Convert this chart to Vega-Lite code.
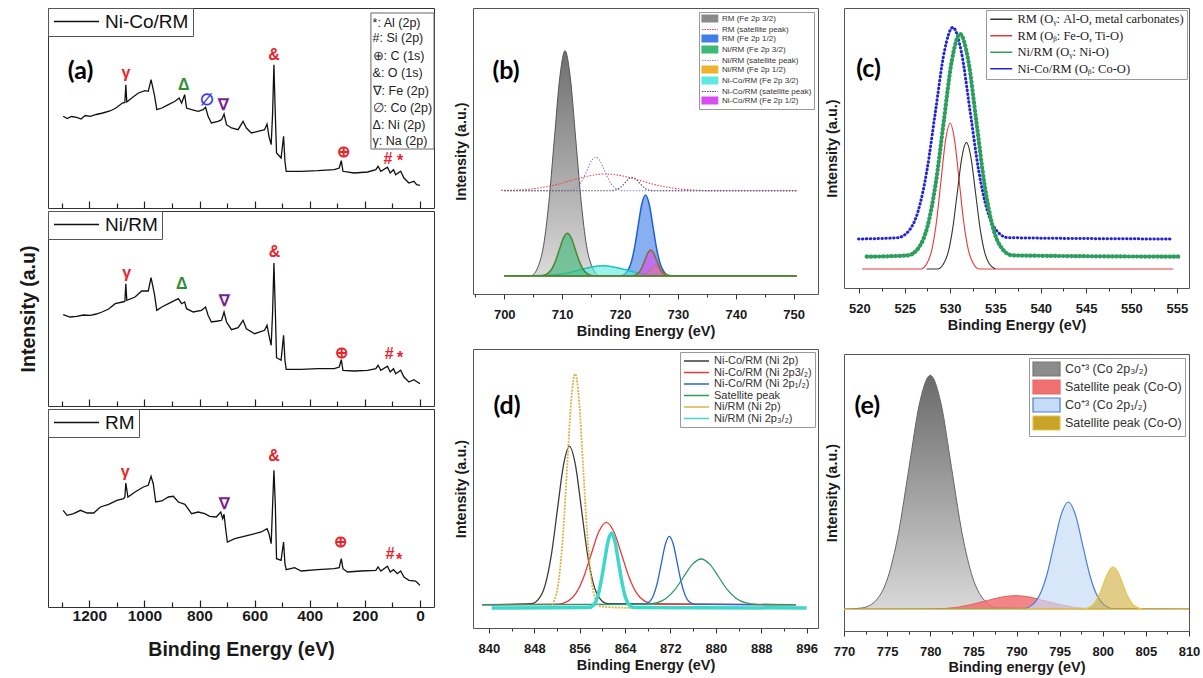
{
"$schema": "https://vega.github.io/schema/vega-lite/v6.json",
"background": "white",
"padding": {"left": 17, "top": 7, "right": 0, "bottom": 2},
"config": {
  "font": "Liberation Sans",
  "view": {"stroke": "#333", "strokeWidth": 1},
  "axis": {"grid": false, "domain": false, "labelFont": "Liberation Sans", "titleFont": "Liberation Sans", "labelFontWeight": "bold", "titleFontWeight": "bold", "labelColor": "#1a1a1a", "titleColor": "#1a1a1a", "tickColor": "#333", "labelFlush": false, "labelOverlap": false, "labelBound": false},
  "legend": {"labelFont": "Liberation Sans", "cornerRadius": 0, "symbolStrokeWidth": 1.3}
},
"datasets": {
  "a1": [{"ev":1295,"i":91.7},{"ev":1280,"i":89.5},{"ev":1265,"i":91.5},{"ev":1246,"i":90.7},{"ev":1230,"i":89},{"ev":1215,"i":92.5},{"ev":1196,"i":91.7},{"ev":1175,"i":93.5},{"ev":1151,"i":95},{"ev":1125,"i":97},{"ev":1110,"i":99},{"ev":1100,"i":100.7},{"ev":1080,"i":105},{"ev":1071,"i":105.5},{"ev":1067.5,"i":123.3},{"ev":1064,"i":106},{"ev":1046,"i":110},{"ev":1022,"i":115},{"ev":998,"i":117.3},{"ev":986,"i":116.7},{"ev":976,"i":128.3},{"ev":964,"i":113.3},{"ev":955,"i":98.3},{"ev":937,"i":100},{"ev":913,"i":103.3},{"ev":889,"i":106.7},{"ev":874,"i":110},{"ev":865,"i":105},{"ev":854,"i":113.3},{"ev":847,"i":100},{"ev":829,"i":98.3},{"ev":805,"i":96.7},{"ev":787,"i":98.3},{"ev":778,"i":100.7},{"ev":769,"i":91.7},{"ev":757,"i":85},{"ev":733,"i":86.7},{"ev":720,"i":88.3},{"ev":711,"i":94},{"ev":702,"i":83.3},{"ev":684,"i":80},{"ev":660,"i":78.3},{"ev":642,"i":86.7},{"ev":630,"i":80},{"ev":612,"i":75},{"ev":588,"i":76.7},{"ev":564,"i":78.3},{"ev":555,"i":84},{"ev":548,"i":71.7},{"ev":540,"i":63.3},{"ev":535,"i":93.3},{"ev":530,"i":143.3},{"ev":525,"i":93.3},{"ev":520.5,"i":55},{"ev":504,"i":50},{"ev":495,"i":71.7},{"ev":490,"i":46.7},{"ev":485.5,"i":36.7},{"ev":431,"i":36.7},{"ev":371,"i":37.3},{"ev":311,"i":38.3},{"ev":293,"i":40},{"ev":285.5,"i":47.3},{"ev":279.5,"i":36.7},{"ev":239,"i":35},{"ev":190,"i":36},{"ev":160,"i":38.3},{"ev":152,"i":41.7},{"ev":142,"i":36.7},{"ev":118,"i":40.7},{"ev":108,"i":35},{"ev":96,"i":38.3},{"ev":88,"i":33.3},{"ev":70,"i":36.7},{"ev":58,"i":30},{"ev":40,"i":25},{"ev":22,"i":26.7},{"ev":12,"i":23.3},{"ev":0,"i":22.7}],
  "a2": [{"ev":1295,"i":91.3},{"ev":1270,"i":89},{"ev":1246,"i":89.7},{"ev":1222,"i":91},{"ev":1196,"i":90.7},{"ev":1175,"i":92},{"ev":1154,"i":94},{"ev":1130,"i":97},{"ev":1106,"i":102.3},{"ev":1080,"i":104},{"ev":1071,"i":104.5},{"ev":1067.5,"i":122.3},{"ev":1064,"i":105.7},{"ev":1034,"i":109},{"ev":1010,"i":115},{"ev":986,"i":115},{"ev":976,"i":128.3},{"ev":964,"i":112.3},{"ev":955,"i":95.7},{"ev":937,"i":99},{"ev":913,"i":102.3},{"ev":877,"i":107.3},{"ev":865,"i":102.3},{"ev":854,"i":104},{"ev":847,"i":97.3},{"ev":823,"i":94},{"ev":793,"i":95.7},{"ev":778,"i":99},{"ev":769,"i":90.7},{"ev":757,"i":84},{"ev":733,"i":85},{"ev":720,"i":85.7},{"ev":711,"i":94},{"ev":702,"i":84},{"ev":684,"i":76.3},{"ev":660,"i":78.3},{"ev":642,"i":85.7},{"ev":630,"i":77.3},{"ev":600,"i":72.3},{"ev":564,"i":75.7},{"ev":555,"i":80.7},{"ev":548,"i":70.7},{"ev":540,"i":60.7},{"ev":535,"i":92.3},{"ev":530,"i":143},{"ev":525,"i":95.7},{"ev":520.5,"i":48.3},{"ev":504,"i":45.7},{"ev":495,"i":70.7},{"ev":490,"i":45.7},{"ev":485.5,"i":36.7},{"ev":431,"i":36.7},{"ev":371,"i":37.3},{"ev":311,"i":37.3},{"ev":293,"i":39},{"ev":285.5,"i":46.3},{"ev":279.5,"i":35.7},{"ev":239,"i":35},{"ev":190,"i":35.7},{"ev":160,"i":37.3},{"ev":152,"i":40.7},{"ev":142,"i":35.7},{"ev":118,"i":39.7},{"ev":108,"i":34},{"ev":96,"i":37.3},{"ev":88,"i":32.3},{"ev":70,"i":35.7},{"ev":58,"i":29},{"ev":40,"i":24},{"ev":22,"i":26.3},{"ev":0,"i":22.3}],
  "a3": [{"ev":1295,"i":96.7},{"ev":1281,"i":91.7},{"ev":1257,"i":93.3},{"ev":1232,"i":96.7},{"ev":1208,"i":94},{"ev":1184,"i":94},{"ev":1160,"i":100},{"ev":1130,"i":102.7},{"ev":1100,"i":106.7},{"ev":1076,"i":108.3},{"ev":1071,"i":110},{"ev":1067.5,"i":124},{"ev":1060,"i":110},{"ev":1034,"i":115},{"ev":1004,"i":120},{"ev":986,"i":121.7},{"ev":976,"i":130.7},{"ev":968,"i":123.3},{"ev":959,"i":105},{"ev":937,"i":106},{"ev":913,"i":110},{"ev":895,"i":110.7},{"ev":877,"i":105},{"ev":853,"i":102.7},{"ev":829,"i":93.3},{"ev":805,"i":95},{"ev":781,"i":93.3},{"ev":763,"i":90.7},{"ev":739,"i":90},{"ev":723,"i":95},{"ev":716,"i":88.3},{"ev":711,"i":92.7},{"ev":706,"i":80},{"ev":699,"i":65},{"ev":672,"i":68.3},{"ev":624,"i":71.7},{"ev":576,"i":75},{"ev":555,"i":78.3},{"ev":548,"i":73.3},{"ev":540,"i":63.3},{"ev":535,"i":100},{"ev":530,"i":136.7},{"ev":525,"i":103.3},{"ev":520.5,"i":48.3},{"ev":504,"i":46.7},{"ev":495,"i":65},{"ev":490,"i":43.3},{"ev":485.5,"i":37.3},{"ev":455,"i":39.3},{"ev":431,"i":36},{"ev":371,"i":37.3},{"ev":311,"i":38.3},{"ev":293,"i":39.3},{"ev":285.5,"i":48.3},{"ev":279.5,"i":38.3},{"ev":263,"i":35},{"ev":215,"i":36},{"ev":160,"i":36.7},{"ev":152,"i":40},{"ev":142,"i":36},{"ev":118,"i":40.7},{"ev":108,"i":35},{"ev":96,"i":37.3},{"ev":82,"i":33.3},{"ev":70,"i":36},{"ev":58,"i":30},{"ev":40,"i":26.7},{"ev":16,"i":26},{"ev":0,"i":21.7}],
  "am": [
    {"p":"top","t":"γ","el":"Na","ev":1067,"i":135},{"p":"top","t":"Δ","el":"Ni","ev":857,"i":123.3},{"p":"top","t":"∅","el":"Co","ev":772,"i":108.3},{"p":"top","t":"∇","el":"Fe","ev":713,"i":103.3},{"p":"top","t":"&","el":"O","ev":530,"i":153.3},{"p":"top","t":"⊕","el":"C","ev":277,"i":56},{"p":"top","t":"#","el":"Si","ev":116,"i":49.3},{"p":"top","t":"*","el":"Al","ev":72,"i":47.3},
    {"p":"mid","t":"γ","el":"Na","ev":1064,"i":133},{"p":"mid","t":"Δ","el":"Ni","ev":865,"i":122.3},{"p":"mid","t":"∇","el":"Fe","ev":711,"i":105},{"p":"mid","t":"&","el":"O","ev":528,"i":154},{"p":"mid","t":"⊕","el":"C","ev":284,"i":53},{"p":"mid","t":"#","el":"Si","ev":112,"i":51.7},{"p":"mid","t":"*","el":"Al","ev":72,"i":48.3},
    {"p":"bot","t":"γ","el":"Na","ev":1070,"i":135},{"p":"bot","t":"∇","el":"Fe","ev":708,"i":103.3},{"p":"bot","t":"&","el":"O","ev":530,"i":150.7},{"p":"bot","t":"⊕","el":"C","ev":287,"i":65},{"p":"bot","t":"#","el":"Si","ev":108,"i":53.3},{"p":"bot","t":"*","el":"Al","ev":76,"i":47.3}
  ],
  "aleg": [{"t":"*: Al (2p)","ev":172,"i":185},{"t":"#: Si (2p)","ev":172,"i":170},{"t":"⊕: C (1s)","ev":172,"i":151.7},{"t":"&: O (1s)","ev":172,"i":135},{"t":"∇: Fe (2p)","ev":172,"i":117.3},{"t":"∅: Co (2p)","ev":172,"i":100},{"t":"Δ: Ni (2p)","ev":172,"i":83.3},{"t":"γ: Na (2p)","ev":172,"i":66.7}],
  "abox": [{"ev":178,"ev2":-51,"i":59,"i2":195}],
  "b": [
    {"s":"RM (Fe 2p 3/2)","ev":700,"i":18.3},{"s":"RM (Fe 2p 3/2)","ev":704.6,"i":18.3},{"s":"RM (Fe 2p 3/2)","ev":705.9,"i":28.2},{"s":"RM (Fe 2p 3/2)","ev":706.8,"i":48.7},{"s":"RM (Fe 2p 3/2)","ev":707.7,"i":91.4},{"s":"RM (Fe 2p 3/2)","ev":708.65,"i":154.8},{"s":"RM (Fe 2p 3/2)","ev":709.6,"i":216.9},{"s":"RM (Fe 2p 3/2)","ev":710.5,"i":243.3},{"s":"RM (Fe 2p 3/2)","ev":711.4,"i":216.9},{"s":"RM (Fe 2p 3/2)","ev":712.35,"i":154.8},{"s":"RM (Fe 2p 3/2)","ev":713.3,"i":91.4},{"s":"RM (Fe 2p 3/2)","ev":714.2,"i":48.7},{"s":"RM (Fe 2p 3/2)","ev":715.1,"i":28.2},{"s":"RM (Fe 2p 3/2)","ev":716.4,"i":18.3},{"s":"RM (Fe 2p 3/2)","ev":750.5,"i":18.3},
    {"s":"RM (Fe 2p 1/2)","ev":700,"i":18.3},{"s":"RM (Fe 2p 1/2)","ev":720.2,"i":18.3},{"s":"RM (Fe 2p 1/2)","ev":721.15,"i":21.8},{"s":"RM (Fe 2p 1/2)","ev":721.8,"i":29.2},{"s":"RM (Fe 2p 1/2)","ev":722.45,"i":44.5},{"s":"RM (Fe 2p 1/2)","ev":723.1,"i":67.2},{"s":"RM (Fe 2p 1/2)","ev":723.75,"i":89.5},{"s":"RM (Fe 2p 1/2)","ev":724.4,"i":99},{"s":"RM (Fe 2p 1/2)","ev":725.05,"i":89.5},{"s":"RM (Fe 2p 1/2)","ev":725.7,"i":67.2},{"s":"RM (Fe 2p 1/2)","ev":726.35,"i":44.5},{"s":"RM (Fe 2p 1/2)","ev":727.0,"i":29.2},{"s":"RM (Fe 2p 1/2)","ev":727.65,"i":21.8},{"s":"RM (Fe 2p 1/2)","ev":728.6,"i":18.3},{"s":"RM (Fe 2p 1/2)","ev":750.5,"i":18.3},
    {"s":"Ni-Co/RM (Fe 2p 3/2)","ev":700,"i":18.3},{"s":"Ni-Co/RM (Fe 2p 3/2)","ev":705,"i":18.3},{"s":"Ni-Co/RM (Fe 2p 3/2)","ev":707.5,"i":18.7},{"s":"Ni-Co/RM (Fe 2p 3/2)","ev":709.4,"i":19.7},{"s":"Ni-Co/RM (Fe 2p 3/2)","ev":711.3,"i":21.5},{"s":"Ni-Co/RM (Fe 2p 3/2)","ev":713.2,"i":24.4},{"s":"Ni-Co/RM (Fe 2p 3/2)","ev":715.1,"i":27.1},{"s":"Ni-Co/RM (Fe 2p 3/2)","ev":717,"i":28.3},{"s":"Ni-Co/RM (Fe 2p 3/2)","ev":718.9,"i":27.1},{"s":"Ni-Co/RM (Fe 2p 3/2)","ev":720.8,"i":24.4},{"s":"Ni-Co/RM (Fe 2p 3/2)","ev":722.7,"i":21.5},{"s":"Ni-Co/RM (Fe 2p 3/2)","ev":724.6,"i":19.7},{"s":"Ni-Co/RM (Fe 2p 3/2)","ev":726.5,"i":18.7},{"s":"Ni-Co/RM (Fe 2p 3/2)","ev":729,"i":18.3},{"s":"Ni-Co/RM (Fe 2p 3/2)","ev":750.5,"i":18.3},
    {"s":"Ni/RM (Fe 2p 1/2)","ev":700,"i":18.3},{"s":"Ni/RM (Fe 2p 1/2)","ev":723.2,"i":18.3},{"s":"Ni/RM (Fe 2p 1/2)","ev":723.85,"i":18.7},{"s":"Ni/RM (Fe 2p 1/2)","ev":724.3,"i":19.7},{"s":"Ni/RM (Fe 2p 1/2)","ev":724.75,"i":21.5},{"s":"Ni/RM (Fe 2p 1/2)","ev":725.2,"i":24.4},{"s":"Ni/RM (Fe 2p 1/2)","ev":725.65,"i":27.1},{"s":"Ni/RM (Fe 2p 1/2)","ev":726.1,"i":28.3},{"s":"Ni/RM (Fe 2p 1/2)","ev":726.55,"i":27.1},{"s":"Ni/RM (Fe 2p 1/2)","ev":727.0,"i":24.4},{"s":"Ni/RM (Fe 2p 1/2)","ev":727.45,"i":21.5},{"s":"Ni/RM (Fe 2p 1/2)","ev":727.9,"i":19.7},{"s":"Ni/RM (Fe 2p 1/2)","ev":728.35,"i":18.7},{"s":"Ni/RM (Fe 2p 1/2)","ev":729.0,"i":18.3},{"s":"Ni/RM (Fe 2p 1/2)","ev":750.5,"i":18.3},
    {"s":"Ni-Co/RM (Fe 2p 1/2)","ev":700,"i":18.3},{"s":"Ni-Co/RM (Fe 2p 1/2)","ev":722.1,"i":18.3},{"s":"Ni-Co/RM (Fe 2p 1/2)","ev":722.8,"i":19.4},{"s":"Ni-Co/RM (Fe 2p 1/2)","ev":723.3,"i":21.8},{"s":"Ni-Co/RM (Fe 2p 1/2)","ev":723.8,"i":26.6},{"s":"Ni-Co/RM (Fe 2p 1/2)","ev":724.3,"i":33.9},{"s":"Ni-Co/RM (Fe 2p 1/2)","ev":724.8,"i":41.0},{"s":"Ni-Co/RM (Fe 2p 1/2)","ev":725.3,"i":44},{"s":"Ni-Co/RM (Fe 2p 1/2)","ev":725.8,"i":41.0},{"s":"Ni-Co/RM (Fe 2p 1/2)","ev":726.3,"i":33.9},{"s":"Ni-Co/RM (Fe 2p 1/2)","ev":726.8,"i":26.6},{"s":"Ni-Co/RM (Fe 2p 1/2)","ev":727.3,"i":21.8},{"s":"Ni-Co/RM (Fe 2p 1/2)","ev":727.8,"i":19.4},{"s":"Ni-Co/RM (Fe 2p 1/2)","ev":728.5,"i":18.3},{"s":"Ni-Co/RM (Fe 2p 1/2)","ev":750.5,"i":18.3},
    {"s":"Ni/RM (Fe 2p 3/2)","ev":700,"i":18.3},{"s":"Ni/RM (Fe 2p 3/2)","ev":706.4,"i":18.3},{"s":"Ni/RM (Fe 2p 3/2)","ev":707.4,"i":20.2},{"s":"Ni/RM (Fe 2p 3/2)","ev":708.1,"i":24.0},{"s":"Ni/RM (Fe 2p 3/2)","ev":708.8,"i":32.1},{"s":"Ni/RM (Fe 2p 3/2)","ev":709.5,"i":44.0},{"s":"Ni/RM (Fe 2p 3/2)","ev":710.2,"i":55.7},{"s":"Ni/RM (Fe 2p 3/2)","ev":710.9,"i":60.7},{"s":"Ni/RM (Fe 2p 3/2)","ev":711.6,"i":55.7},{"s":"Ni/RM (Fe 2p 3/2)","ev":712.3,"i":44.0},{"s":"Ni/RM (Fe 2p 3/2)","ev":713.0,"i":32.1},{"s":"Ni/RM (Fe 2p 3/2)","ev":713.7,"i":24.0},{"s":"Ni/RM (Fe 2p 3/2)","ev":714.4,"i":20.2},{"s":"Ni/RM (Fe 2p 3/2)","ev":715.4,"i":18.3},{"s":"Ni/RM (Fe 2p 3/2)","ev":750.5,"i":18.3},
    {"s":"RM (satellite peak)","ev":699.5,"i":103.6},{"s":"RM (satellite peak)","ev":702.5,"i":104.0},{"s":"RM (satellite peak)","ev":705.5,"i":105.6},{"s":"RM (satellite peak)","ev":708.5,"i":108.7},{"s":"RM (satellite peak)","ev":711.5,"i":113.4},{"s":"RM (satellite peak)","ev":714.5,"i":118},{"s":"RM (satellite peak)","ev":717.5,"i":120},{"s":"RM (satellite peak)","ev":720.5,"i":118},{"s":"RM (satellite peak)","ev":723.5,"i":113.4},{"s":"RM (satellite peak)","ev":726.5,"i":108.7},{"s":"RM (satellite peak)","ev":729.5,"i":105.6},{"s":"RM (satellite peak)","ev":732.5,"i":104.0},{"s":"RM (satellite peak)","ev":736.7,"i":103.3},{"s":"RM (satellite peak)","ev":750.5,"i":103.3},
    {"s":"Ni/RM (satellite peak)","ev":700,"i":103.3},{"s":"Ni/RM (satellite peak)","ev":711.0,"i":103.3},{"s":"Ni/RM (satellite peak)","ev":712.05,"i":104.8},{"s":"Ni/RM (satellite peak)","ev":712.8,"i":107.9},{"s":"Ni/RM (satellite peak)","ev":713.55,"i":114.2},{"s":"Ni/RM (satellite peak)","ev":714.3,"i":123.7},{"s":"Ni/RM (satellite peak)","ev":715.05,"i":133.0},{"s":"Ni/RM (satellite peak)","ev":715.8,"i":137},{"s":"Ni/RM (satellite peak)","ev":716.55,"i":133.0},{"s":"Ni/RM (satellite peak)","ev":717.3,"i":123.7},{"s":"Ni/RM (satellite peak)","ev":718.05,"i":114.2},{"s":"Ni/RM (satellite peak)","ev":718.8,"i":107.9},{"s":"Ni/RM (satellite peak)","ev":719.55,"i":104.8},{"s":"Ni/RM (satellite peak)","ev":720.6,"i":103.3},{"s":"Ni/RM (satellite peak)","ev":750.5,"i":103.3},
    {"s":"Ni-Co/RM (satellite peak)","ev":700,"i":103.3},{"s":"Ni-Co/RM (satellite peak)","ev":718.3,"i":103.3},{"s":"Ni-Co/RM (satellite peak)","ev":719.1,"i":103.9},{"s":"Ni-Co/RM (satellite peak)","ev":719.7,"i":105.1},{"s":"Ni-Co/RM (satellite peak)","ev":720.3,"i":107.7},{"s":"Ni-Co/RM (satellite peak)","ev":720.9,"i":111.4},{"s":"Ni-Co/RM (satellite peak)","ev":721.5,"i":115.1},{"s":"Ni-Co/RM (satellite peak)","ev":722.1,"i":116.7},{"s":"Ni-Co/RM (satellite peak)","ev":722.7,"i":115.1},{"s":"Ni-Co/RM (satellite peak)","ev":723.3,"i":111.4},{"s":"Ni-Co/RM (satellite peak)","ev":723.9,"i":107.7},{"s":"Ni-Co/RM (satellite peak)","ev":724.5,"i":105.1},{"s":"Ni-Co/RM (satellite peak)","ev":725.1,"i":103.9},{"s":"Ni-Co/RM (satellite peak)","ev":725.9,"i":103.3},{"s":"Ni-Co/RM (satellite peak)","ev":750.5,"i":103.3}
  ],
  "c": [
    {"s":"Ni-Co/RM (Oᵦ: Co-O)","ev":519.9,"i":49},{"s":"Ni-Co/RM (Oᵦ: Co-O)","ev":524.2,"i":50.3},{"s":"Ni-Co/RM (Oᵦ: Co-O)","ev":525.55,"i":58.3},{"s":"Ni-Co/RM (Oᵦ: Co-O)","ev":526.5,"i":77.6},{"s":"Ni-Co/RM (Oᵦ: Co-O)","ev":527.45,"i":117.7},{"s":"Ni-Co/RM (Oᵦ: Co-O)","ev":528.4,"i":177.3},{"s":"Ni-Co/RM (Oᵦ: Co-O)","ev":529.35,"i":235.7},{"s":"Ni-Co/RM (Oᵦ: Co-O)","ev":530.3,"i":260.6},{"s":"Ni-Co/RM (Oᵦ: Co-O)","ev":531.25,"i":235.7},{"s":"Ni-Co/RM (Oᵦ: Co-O)","ev":532.2,"i":177.3},{"s":"Ni-Co/RM (Oᵦ: Co-O)","ev":533.15,"i":117.7},{"s":"Ni-Co/RM (Oᵦ: Co-O)","ev":534.1,"i":77.6},{"s":"Ni-Co/RM (Oᵦ: Co-O)","ev":535.05,"i":58.3},{"s":"Ni-Co/RM (Oᵦ: Co-O)","ev":536.4,"i":50.3},{"s":"Ni-Co/RM (Oᵦ: Co-O)","ev":554.3,"i":49},
    {"s":"Ni/RM (Oᵧ: Ni-O)","ev":520.8,"i":31.3},{"s":"Ni/RM (Oᵧ: Ni-O)","ev":525.3,"i":32.6},{"s":"Ni/RM (Oᵧ: Ni-O)","ev":526.6,"i":41.1},{"s":"Ni/RM (Oᵧ: Ni-O)","ev":527.5,"i":61.4},{"s":"Ni/RM (Oᵧ: Ni-O)","ev":528.4,"i":103.6},{"s":"Ni/RM (Oᵧ: Ni-O)","ev":529.3,"i":166.4},{"s":"Ni/RM (Oᵧ: Ni-O)","ev":530.2,"i":227.8},{"s":"Ni/RM (Oᵧ: Ni-O)","ev":531.1,"i":254},{"s":"Ni/RM (Oᵧ: Ni-O)","ev":532.0,"i":227.8},{"s":"Ni/RM (Oᵧ: Ni-O)","ev":532.9,"i":166.4},{"s":"Ni/RM (Oᵧ: Ni-O)","ev":533.8,"i":103.6},{"s":"Ni/RM (Oᵧ: Ni-O)","ev":534.7,"i":61.4},{"s":"Ni/RM (Oᵧ: Ni-O)","ev":535.6,"i":41.1},{"s":"Ni/RM (Oᵧ: Ni-O)","ev":536.9,"i":32.6},{"s":"Ni/RM (Oᵧ: Ni-O)","ev":555.5,"i":31.3},
    {"s":"RM (Oᵦ: Fe-O, Ti-O)","ev":520.3,"i":19},{"s":"RM (Oᵦ: Fe-O, Ti-O)","ev":526.8,"i":19},{"s":"RM (Oᵦ: Fe-O, Ti-O)","ev":527.5,"i":25.4},{"s":"RM (Oᵦ: Fe-O, Ti-O)","ev":528,"i":38.7},{"s":"RM (Oᵦ: Fe-O, Ti-O)","ev":528.5,"i":66.3},{"s":"RM (Oᵦ: Fe-O, Ti-O)","ev":529,"i":107.4},{"s":"RM (Oᵦ: Fe-O, Ti-O)","ev":529.5,"i":147.6},{"s":"RM (Oᵦ: Fe-O, Ti-O)","ev":530,"i":164.7},{"s":"RM (Oᵦ: Fe-O, Ti-O)","ev":530.5,"i":147.6},{"s":"RM (Oᵦ: Fe-O, Ti-O)","ev":531,"i":107.4},{"s":"RM (Oᵦ: Fe-O, Ti-O)","ev":531.5,"i":66.3},{"s":"RM (Oᵦ: Fe-O, Ti-O)","ev":532,"i":38.7},{"s":"RM (Oᵦ: Fe-O, Ti-O)","ev":532.5,"i":25.4},{"s":"RM (Oᵦ: Fe-O, Ti-O)","ev":533.2,"i":19},{"s":"RM (Oᵦ: Fe-O, Ti-O)","ev":554.6,"i":19},
    {"s":"RM (Oᵧ: Al-O, metal carbonates)","ev":527.4,"i":19},{"s":"RM (Oᵧ: Al-O, metal carbonates)","ev":528.6,"i":19},{"s":"RM (Oᵧ: Al-O, metal carbonates)","ev":529.3,"i":24.6},{"s":"RM (Oᵧ: Al-O, metal carbonates)","ev":529.8,"i":36.1},{"s":"RM (Oᵧ: Al-O, metal carbonates)","ev":530.3,"i":60.1},{"s":"RM (Oᵧ: Al-O, metal carbonates)","ev":530.8,"i":95.8},{"s":"RM (Oᵧ: Al-O, metal carbonates)","ev":531.3,"i":130.7},{"s":"RM (Oᵧ: Al-O, metal carbonates)","ev":531.8,"i":145.6},{"s":"RM (Oᵧ: Al-O, metal carbonates)","ev":532.3,"i":130.7},{"s":"RM (Oᵧ: Al-O, metal carbonates)","ev":532.8,"i":95.8},{"s":"RM (Oᵧ: Al-O, metal carbonates)","ev":533.3,"i":60.1},{"s":"RM (Oᵧ: Al-O, metal carbonates)","ev":533.8,"i":36.1},{"s":"RM (Oᵧ: Al-O, metal carbonates)","ev":534.3,"i":24.6},{"s":"RM (Oᵧ: Al-O, metal carbonates)","ev":535.0,"i":19}
  ],
  "d": [
    {"s":"Ni-Co/RM (Ni 2p)","ev":838.8,"i":23.3},{"s":"Ni-Co/RM (Ni 2p)","ev":847.5,"i":24.3},{"s":"Ni-Co/RM (Ni 2p)","ev":848.95,"i":30.3},{"s":"Ni-Co/RM (Ni 2p)","ev":850,"i":44.7},{"s":"Ni-Co/RM (Ni 2p)","ev":851.05,"i":74.7},{"s":"Ni-Co/RM (Ni 2p)","ev":852.1,"i":119.4},{"s":"Ni-Co/RM (Ni 2p)","ev":853.15,"i":163.1},{"s":"Ni-Co/RM (Ni 2p)","ev":854.2,"i":181.7},{"s":"Ni-Co/RM (Ni 2p)","ev":855.25,"i":163.1},{"s":"Ni-Co/RM (Ni 2p)","ev":856.3,"i":119.4},{"s":"Ni-Co/RM (Ni 2p)","ev":857.35,"i":74.7},{"s":"Ni-Co/RM (Ni 2p)","ev":858.4,"i":44.7},{"s":"Ni-Co/RM (Ni 2p)","ev":859.45,"i":30.3},{"s":"Ni-Co/RM (Ni 2p)","ev":860.9,"i":24.3},{"s":"Ni-Co/RM (Ni 2p)","ev":894.1,"i":23.3},
    {"s":"Ni-Co/RM (Ni 2p3/₂)","ev":838.8,"i":23.3},{"s":"Ni-Co/RM (Ni 2p3/₂)","ev":852.1,"i":23.8},{"s":"Ni-Co/RM (Ni 2p3/₂)","ev":853.95,"i":26.9},{"s":"Ni-Co/RM (Ni 2p3/₂)","ev":855.3,"i":34.4},{"s":"Ni-Co/RM (Ni 2p3/₂)","ev":856.65,"i":50.1},{"s":"Ni-Co/RM (Ni 2p3/₂)","ev":858,"i":73.3},{"s":"Ni-Co/RM (Ni 2p3/₂)","ev":859.35,"i":96},{"s":"Ni-Co/RM (Ni 2p3/₂)","ev":860.7,"i":105.7},{"s":"Ni-Co/RM (Ni 2p3/₂)","ev":862.05,"i":96},{"s":"Ni-Co/RM (Ni 2p3/₂)","ev":863.4,"i":73.3},{"s":"Ni-Co/RM (Ni 2p3/₂)","ev":864.75,"i":50.1},{"s":"Ni-Co/RM (Ni 2p3/₂)","ev":866.1,"i":34.4},{"s":"Ni-Co/RM (Ni 2p3/₂)","ev":867.45,"i":26.9},{"s":"Ni-Co/RM (Ni 2p3/₂)","ev":869.3,"i":23.8},{"s":"Ni-Co/RM (Ni 2p3/₂)","ev":894.1,"i":23.3},
    {"s":"Ni-Co/RM (Ni 2p₁/₂)","ev":838.8,"i":23.3},{"s":"Ni-Co/RM (Ni 2p₁/₂)","ev":867.3,"i":23.7},{"s":"Ni-Co/RM (Ni 2p₁/₂)","ev":868.3,"i":26.3},{"s":"Ni-Co/RM (Ni 2p₁/₂)","ev":869,"i":32.6},{"s":"Ni-Co/RM (Ni 2p₁/₂)","ev":869.7,"i":45.5},{"s":"Ni-Co/RM (Ni 2p₁/₂)","ev":870.4,"i":64.8},{"s":"Ni-Co/RM (Ni 2p₁/₂)","ev":871.1,"i":83.7},{"s":"Ni-Co/RM (Ni 2p₁/₂)","ev":871.8,"i":91.7},{"s":"Ni-Co/RM (Ni 2p₁/₂)","ev":872.5,"i":83.7},{"s":"Ni-Co/RM (Ni 2p₁/₂)","ev":873.2,"i":64.8},{"s":"Ni-Co/RM (Ni 2p₁/₂)","ev":873.9,"i":45.5},{"s":"Ni-Co/RM (Ni 2p₁/₂)","ev":874.6,"i":32.6},{"s":"Ni-Co/RM (Ni 2p₁/₂)","ev":875.3,"i":26.3},{"s":"Ni-Co/RM (Ni 2p₁/₂)","ev":876.3,"i":23.7},{"s":"Ni-Co/RM (Ni 2p₁/₂)","ev":894.1,"i":23.3},
    {"s":"Satellite peak","ev":838.8,"i":23.3},{"s":"Satellite peak","ev":867.5,"i":23.6},{"s":"Satellite peak","ev":869.65,"i":25.3},{"s":"Satellite peak","ev":871.2,"i":29.5},{"s":"Satellite peak","ev":872.75,"i":38.1},{"s":"Satellite peak","ev":874.3,"i":51},{"s":"Satellite peak","ev":875.85,"i":63.6},{"s":"Satellite peak","ev":877.4,"i":69},{"s":"Satellite peak","ev":878.95,"i":63.6},{"s":"Satellite peak","ev":880.5,"i":51},{"s":"Satellite peak","ev":882.05,"i":38.1},{"s":"Satellite peak","ev":883.6,"i":29.5},{"s":"Satellite peak","ev":885.15,"i":25.3},{"s":"Satellite peak","ev":887.3,"i":23.6},{"s":"Satellite peak","ev":894.1,"i":23.3},
    {"s":"Ni/RM (Ni 2p)","ev":850.7,"i":21.4},{"s":"Ni/RM (Ni 2p)","ev":851.7,"i":30.3},{"s":"Ni/RM (Ni 2p)","ev":852.4,"i":51.7},{"s":"Ni/RM (Ni 2p)","ev":853.1,"i":96.1},{"s":"Ni/RM (Ni 2p)","ev":853.8,"i":162.1},{"s":"Ni/RM (Ni 2p)","ev":854.5,"i":226.8},{"s":"Ni/RM (Ni 2p)","ev":855.2,"i":254.3},{"s":"Ni/RM (Ni 2p)","ev":855.9,"i":226.8},{"s":"Ni/RM (Ni 2p)","ev":856.6,"i":162.1},{"s":"Ni/RM (Ni 2p)","ev":857.3,"i":96.1},{"s":"Ni/RM (Ni 2p)","ev":858,"i":51.7},{"s":"Ni/RM (Ni 2p)","ev":858.7,"i":30.3},{"s":"Ni/RM (Ni 2p)","ev":859.7,"i":21.4},{"s":"Ni/RM (Ni 2p)","ev":866,"i":20},
    {"s":"Ni/RM (Ni 2p₃/₂)","ev":840.5,"i":20},{"s":"Ni/RM (Ni 2p₃/₂)","ev":857.6,"i":20.5},{"s":"Ni/RM (Ni 2p₃/₂)","ev":858.5,"i":23.3},{"s":"Ni/RM (Ni 2p₃/₂)","ev":859.1,"i":30.1},{"s":"Ni/RM (Ni 2p₃/₂)","ev":859.7,"i":44.4},{"s":"Ni/RM (Ni 2p₃/₂)","ev":860.35,"i":65.5},{"s":"Ni/RM (Ni 2p₃/₂)","ev":860.98,"i":86.2},{"s":"Ni/RM (Ni 2p₃/₂)","ev":861.6,"i":95},{"s":"Ni/RM (Ni 2p₃/₂)","ev":862.23,"i":86.2},{"s":"Ni/RM (Ni 2p₃/₂)","ev":862.85,"i":65.5},{"s":"Ni/RM (Ni 2p₃/₂)","ev":863.5,"i":44.4},{"s":"Ni/RM (Ni 2p₃/₂)","ev":864.1,"i":30.1},{"s":"Ni/RM (Ni 2p₃/₂)","ev":864.7,"i":23.3},{"s":"Ni/RM (Ni 2p₃/₂)","ev":865.6,"i":20.5},{"s":"Ni/RM (Ni 2p₃/₂)","ev":896,"i":20}
  ],
  "e": [
    {"s":"Co⁺³ (Co 2p₃/₂)","ev":770,"i":21.7},{"s":"Co⁺³ (Co 2p₃/₂)","ev":772.13,"i":23.1},{"s":"Co⁺³ (Co 2p₃/₂)","ev":773.85,"i":32},{"s":"Co⁺³ (Co 2p₃/₂)","ev":775.08,"i":53.4},{"s":"Co⁺³ (Co 2p₃/₂)","ev":776.31,"i":97.7},{"s":"Co⁺³ (Co 2p₃/₂)","ev":777.54,"i":163.6},{"s":"Co⁺³ (Co 2p₃/₂)","ev":778.77,"i":228.2},{"s":"Co⁺³ (Co 2p₃/₂)","ev":780,"i":255.7},{"s":"Co⁺³ (Co 2p₃/₂)","ev":781.23,"i":228.2},{"s":"Co⁺³ (Co 2p₃/₂)","ev":782.46,"i":163.6},{"s":"Co⁺³ (Co 2p₃/₂)","ev":783.69,"i":97.7},{"s":"Co⁺³ (Co 2p₃/₂)","ev":784.92,"i":53.4},{"s":"Co⁺³ (Co 2p₃/₂)","ev":786.15,"i":32},{"s":"Co⁺³ (Co 2p₃/₂)","ev":787.87,"i":23.1},{"s":"Co⁺³ (Co 2p₃/₂)","ev":810,"i":21.7},
    {"s":"Satellite peak (Co-O)","ev":770,"i":21.7},{"s":"Satellite peak (Co-O)","ev":778.7,"i":21.7},{"s":"Satellite peak (Co-O)","ev":781.15,"i":22.3},{"s":"Satellite peak (Co-O)","ev":782.9,"i":23.5},{"s":"Satellite peak (Co-O)","ev":784.65,"i":26.1},{"s":"Satellite peak (Co-O)","ev":786.4,"i":29.9},{"s":"Satellite peak (Co-O)","ev":788.15,"i":33.7},{"s":"Satellite peak (Co-O)","ev":789.9,"i":35.3},{"s":"Satellite peak (Co-O)","ev":791.65,"i":33.7},{"s":"Satellite peak (Co-O)","ev":793.4,"i":29.9},{"s":"Satellite peak (Co-O)","ev":795.15,"i":26.1},{"s":"Satellite peak (Co-O)","ev":796.9,"i":23.5},{"s":"Satellite peak (Co-O)","ev":798.65,"i":22.3},{"s":"Satellite peak (Co-O)","ev":801.1,"i":21.7},{"s":"Satellite peak (Co-O)","ev":810,"i":21.7},
    {"s":"Co⁺³ (Co 2p₁/₂)","ev":770,"i":21.7},{"s":"Co⁺³ (Co 2p₁/₂)","ev":790.72,"i":22.3},{"s":"Co⁺³ (Co 2p₁/₂)","ev":791.88,"i":26.4},{"s":"Co⁺³ (Co 2p₁/₂)","ev":792.7,"i":36.2},{"s":"Co⁺³ (Co 2p₁/₂)","ev":793.53,"i":56.5},{"s":"Co⁺³ (Co 2p₁/₂)","ev":794.35,"i":86.8},{"s":"Co⁺³ (Co 2p₁/₂)","ev":795.18,"i":116.4},{"s":"Co⁺³ (Co 2p₁/₂)","ev":796,"i":129},{"s":"Co⁺³ (Co 2p₁/₂)","ev":796.83,"i":116.4},{"s":"Co⁺³ (Co 2p₁/₂)","ev":797.65,"i":86.8},{"s":"Co⁺³ (Co 2p₁/₂)","ev":798.48,"i":56.5},{"s":"Co⁺³ (Co 2p₁/₂)","ev":799.3,"i":36.2},{"s":"Co⁺³ (Co 2p₁/₂)","ev":800.13,"i":26.4},{"s":"Co⁺³ (Co 2p₁/₂)","ev":801.28,"i":22.3},{"s":"Co⁺³ (Co 2p₁/₂)","ev":810,"i":21.7},
    {"s":"Satellite peak (Co-O) ","ev":770,"i":21.7},{"s":"Satellite peak (Co-O) ","ev":797.68,"i":21.9},{"s":"Satellite peak (Co-O) ","ev":798.45,"i":23.6},{"s":"Satellite peak (Co-O) ","ev":799,"i":27.4},{"s":"Satellite peak (Co-O) ","ev":799.55,"i":35.4},{"s":"Satellite peak (Co-O) ","ev":800.1,"i":47.4},{"s":"Satellite peak (Co-O) ","ev":800.65,"i":59},{"s":"Satellite peak (Co-O) ","ev":801.2,"i":64},{"s":"Satellite peak (Co-O) ","ev":801.75,"i":59},{"s":"Satellite peak (Co-O) ","ev":802.3,"i":47.4},{"s":"Satellite peak (Co-O) ","ev":802.85,"i":35.4},{"s":"Satellite peak (Co-O) ","ev":803.4,"i":27.4},{"s":"Satellite peak (Co-O) ","ev":803.95,"i":23.6},{"s":"Satellite peak (Co-O) ","ev":804.72,"i":21.9},{"s":"Satellite peak (Co-O) ","ev":810,"i":21.7}
  ]
},
"spacing": 17,
"resolve": {"scale": {"color": "independent", "fill": "independent", "stroke": "independent", "fillOpacity": "independent"}, "legend": {"color": "independent", "fill": "independent", "stroke": "independent", "fillOpacity": "independent"}},
"hconcat": [
  {
    "spacing": 0,
    "resolve": {"scale": {"color": "independent", "fill": "independent"}, "legend": {"color": "independent", "fill": "independent"}},
    "vconcat": [
      {
        "width": 386, "height": 200,
        "encoding": {
          "x": {"field": "ev", "type": "quantitative", "scale": {"domain": [-51, 1350], "reverse": true, "nice": false, "zero": false},
                "axis": {"values": [1300,1200,1100,1000,900,800,700,600,500,400,300,200,100,0], "labels": false, "tickSize": {"condition": {"test": "datum.value % 200 === 0", "value": -7}, "value": -5}, "tickColor": "#222", "tickWidth": 1.2, "title": null}},
          "y": {"field": "i", "type": "quantitative", "scale": {"domain": [0, 200], "nice": false, "zero": false}, "axis": null}
        },
        "layer": [
          {"data": {"name": "a1"}, "mark": {"type": "line", "strokeWidth": 1.3},
           "encoding": {"color": {"datum": "Ni-Co/RM", "scale": {"range": ["#111111"]}, "legend": {"orient": "top-left", "offset": 0, "title": null, "symbolType": "M-1,0H5", "symbolSize": 225, "symbolStrokeWidth": 1.5, "labelFontSize": 19, "labelOffset": 34, "padding": 4, "strokeColor": "#555", "fillColor": "white", "labelColor": "#111"}}}},
          {"data": {"name": "abox"}, "mark": {"type": "rect", "fill": "white", "stroke": "#666", "strokeWidth": 1},
           "encoding": {"x2": {"field": "ev2"}, "y2": {"field": "i2"}}},
          {"data": {"name": "aleg"}, "mark": {"type": "text", "align": "left", "baseline": "middle", "fontSize": 12.5, "color": "#222"},
           "encoding": {"text": {"field": "t"}}},
          {"data": {"name": "am"}, "transform": [{"filter": "datum.p === 'top'"}], "mark": {"type": "text", "fontSize": 16, "fontWeight": "bold", "baseline": "middle"},
           "encoding": {"text": {"field": "t"},
             "fill": {"field": "el", "type": "nominal", "scale": {"domain": ["Na","Ni","Co","Fe","O","C","Si","Al"], "range": ["#e8242c","#2f8f2f","#3b3bf0","#7a1f8f","#e8242c","#e8242c","#e8242c","#e8242c"]}, "legend": null}}},
          {"data": {"values": [{"t": "(a)", "ev": 1232, "i": 137}]}, "mark": {"type": "text", "fontSize": 25, "fontWeight": "bold", "font": "Lato", "baseline": "middle"},
           "encoding": {"text": {"field": "t"}}}
        ]
      },
      {
        "width": 386, "height": 195,
        "encoding": {
          "x": {"field": "ev", "type": "quantitative", "scale": {"domain": [-51, 1350], "reverse": true, "nice": false, "zero": false},
                "axis": {"values": [1300,1200,1100,1000,900,800,700,600,500,400,300,200,100,0], "labels": false, "tickSize": {"condition": {"test": "datum.value % 200 === 0", "value": -7}, "value": -5}, "tickColor": "#222", "tickWidth": 1.2, "title": null}},
          "y": {"field": "i", "type": "quantitative", "scale": {"domain": [0, 195], "nice": false, "zero": false}, "axis": {"title": "Intensity (a.u)", "labels": false, "ticks": false, "titleFontSize": 19.5, "titlePadding": 10}}
        },
        "layer": [
          {"data": {"name": "a2"}, "mark": {"type": "line", "strokeWidth": 1.3},
           "encoding": {"color": {"datum": "Ni/RM", "scale": {"range": ["#111111"]}, "legend": {"orient": "top-left", "offset": 0, "title": null, "symbolType": "M-1,0H5", "symbolSize": 225, "symbolStrokeWidth": 1.5, "labelFontSize": 19, "labelOffset": 34, "padding": 4, "strokeColor": "#555", "fillColor": "white", "labelColor": "#111"}}}},
          {"data": {"name": "am"}, "transform": [{"filter": "datum.p === 'mid'"}], "mark": {"type": "text", "fontSize": 16, "fontWeight": "bold", "baseline": "middle"},
           "encoding": {"text": {"field": "t"},
             "fill": {"field": "el", "type": "nominal", "scale": {"domain": ["Na","Ni","Co","Fe","O","C","Si","Al"], "range": ["#e8242c","#2f8f2f","#3b3bf0","#7a1f8f","#e8242c","#e8242c","#e8242c","#e8242c"]}, "legend": null}}}
        ]
      },
      {
        "width": 386, "height": 198,
        "encoding": {
          "x": {"field": "ev", "type": "quantitative", "scale": {"domain": [-51, 1350], "reverse": true, "nice": false, "zero": false},
                "axis": {"values": [1300,1200,1100,1000,900,800,700,600,500,400,300,200,100,0], "format": "d", "labelExpr": "datum.value % 200 === 0 ? datum.label : ''", "labelFontSize": 15.5, "labelPadding": 8, "tickSize": {"condition": {"test": "datum.value % 200 === 0", "value": -7}, "value": -5}, "tickColor": "#222", "tickWidth": 1.2, "title": "Binding Energy (eV)", "titleFontSize": 19.5, "titlePadding": 15}},
          "y": {"field": "i", "type": "quantitative", "scale": {"domain": [0, 198], "nice": false, "zero": false}, "axis": null}
        },
        "layer": [
          {"data": {"name": "a3"}, "mark": {"type": "line", "strokeWidth": 1.3},
           "encoding": {"color": {"datum": "RM", "scale": {"range": ["#111111"]}, "legend": {"orient": "top-left", "offset": 0, "title": null, "symbolType": "M-1,0H5", "symbolSize": 225, "symbolStrokeWidth": 1.5, "labelFontSize": 19, "labelOffset": 34, "padding": 4, "strokeColor": "#555", "fillColor": "white", "labelColor": "#111"}}}},
          {"data": {"name": "am"}, "transform": [{"filter": "datum.p === 'bot'"}], "mark": {"type": "text", "fontSize": 16, "fontWeight": "bold", "baseline": "middle"},
           "encoding": {"text": {"field": "t"},
             "fill": {"field": "el", "type": "nominal", "scale": {"domain": ["Na","Ni","Co","Fe","O","C","Si","Al"], "range": ["#e8242c","#2f8f2f","#3b3bf0","#7a1f8f","#e8242c","#e8242c","#e8242c","#e8242c"]}, "legend": null}}}
        ]
      }
    ]
  },
  {
    "spacing": 4,
    "resolve": {"scale": {"color": "independent", "fill": "independent", "stroke": "independent", "fillOpacity": "independent"}, "legend": {"color": "independent", "fill": "independent", "stroke": "independent", "fillOpacity": "independent"}},
    "hconcat": [
      {
        "spacing": 10,
        "resolve": {"scale": {"color": "independent", "stroke": "independent"}, "legend": {"color": "independent", "stroke": "independent"}},
        "vconcat": [
          {
            "width": 345, "height": 286,
            "view": {"stroke": "#555"},
            "encoding": {
              "x": {"field": "ev", "type": "quantitative", "scale": {"domain": [694.6, 754.2], "nice": false, "zero": false},
                    "axis": {"values": [695,700,705,710,715,720,725,730,735,740,745,750], "format": "d", "labelExpr": "datum.value % 10 === 0 ? datum.label : ''", "tickSize": {"condition": {"test": "datum.value % 10 === 0", "value": 5}, "value": 3}, "labelFontSize": 13, "labelPadding": 9, "title": "Binding Energy (eV)", "titleFontSize": 14.5, "titlePadding": 3}},
              "y": {"field": "i", "type": "quantitative", "stack": null, "scale": {"domain": [0, 286], "nice": false, "zero": false}, "axis": {"title": "Intensity (a.u.)", "labels": false, "ticks": false, "titleFontSize": 14.5, "titlePadding": 5}}
            },
            "layer": [
              {"data": {"name": "b"}, "transform": [{"filter": "datum.s === 'RM (Fe 2p 3/2)'"}],
               "mark": {"type": "area", "interpolate": "monotone", "stroke": "#555", "strokeWidth": 1, "fill": {"gradient": "linear", "x1": 0, "y1": 0, "x2": 0, "y2": 1, "stops": [{"offset": 0, "color": "#6e6e6e"}, {"offset": 1, "color": "#dadada"}]}},
               "encoding": {"y2": {"datum": 18.3}}},
              {"data": {"name": "b"}, "transform": [{"filter": {"field": "s", "oneOf": ["RM (Fe 2p 1/2)", "Ni-Co/RM (Fe 2p 3/2)", "Ni/RM (Fe 2p 1/2)", "Ni-Co/RM (Fe 2p 1/2)", "Ni/RM (Fe 2p 3/2)"]}}],
               "mark": {"type": "area", "interpolate": "monotone", "strokeWidth": 1.5, "fillOpacity": 0.62},
               "encoding": {
                 "y2": {"datum": 18.3},
                 "color": {"field": "s", "type": "nominal",
                   "scale": {"domain": ["RM (Fe 2p 3/2)", "RM (satellite peak)", "RM (Fe 2p 1/2)", "Ni/RM (Fe 2p 3/2)", "Ni/RM (satellite peak)", "Ni/RM (Fe 2p 1/2)", "Ni-Co/RM (Fe 2p 3/2)", "Ni-Co/RM (satellite peak)", "Ni-Co/RM (Fe 2p 1/2)"],
                             "range": ["#8a8a8a", "#e8454a", "#3f7fe6", "#3cb878", "#9b7fd4", "#f0b030", "#5ee8e0", "#555555", "#d94cf0"]},
                   "legend": {"orient": "top-right", "offset": 4, "title": null, "symbolType": "M-1,-1H3.5V1H-1Z", "symbolSize": 49, "labelFontSize": 8, "labelOffset": 12, "rowPadding": -3, "padding": 2, "strokeColor": "#999", "fillColor": "white", "labelColor": "#333",
                     "encode": {"symbols": {"update": {
                       "shape": {"signal": "indexof(datum.value, 'satellite') >= 0 ? 'M-1,0H3.5' : 'M-1,-1H3.5V1H-1Z'"},
                       "fill": {"signal": "indexof(datum.value, 'satellite') >= 0 ? 'transparent' : ['#8a8a8a','#e8454a','#6d9be8','#6cc795','#9b7fd4','#f2be4a','#86efe8','#555555','#ee8ff5'][indexof(['RM (Fe 2p 3/2)','RM (satellite peak)','RM (Fe 2p 1/2)','Ni/RM (Fe 2p 3/2)','Ni/RM (satellite peak)','Ni/RM (Fe 2p 1/2)','Ni-Co/RM (Fe 2p 3/2)','Ni-Co/RM (satellite peak)','Ni-Co/RM (Fe 2p 1/2)'], datum.value)]"},
                       "stroke": {"signal": "['#555555','#e8454a','#1e5fd8','#2e8b57','#9b7fd4','#c8961e','#22c0b8','#555555','#8b6a2a'][indexof(['RM (Fe 2p 3/2)','RM (satellite peak)','RM (Fe 2p 1/2)','Ni/RM (Fe 2p 3/2)','Ni/RM (satellite peak)','Ni/RM (Fe 2p 1/2)','Ni-Co/RM (Fe 2p 3/2)','Ni-Co/RM (satellite peak)','Ni-Co/RM (Fe 2p 1/2)'], datum.value)]"},
                       "strokeDash": {"signal": "indexof(datum.value, 'satellite') >= 0 ? [1.5, 1] : []"},
                       "strokeWidth": {"value": 1.2},
                       "fillOpacity": {"value": 1},
                       "opacity": {"value": 1}
                     }}}}},
                 "stroke": {"field": "s", "type": "nominal",
                   "scale": {"domain": ["RM (Fe 2p 3/2)", "RM (satellite peak)", "RM (Fe 2p 1/2)", "Ni/RM (Fe 2p 3/2)", "Ni/RM (satellite peak)", "Ni/RM (Fe 2p 1/2)", "Ni-Co/RM (Fe 2p 3/2)", "Ni-Co/RM (satellite peak)", "Ni-Co/RM (Fe 2p 1/2)"],
                             "range": ["#555555", "#e8454a", "#1e5fd8", "#4a8a34", "#9b7fd4", "#c8961e", "#22c0b8", "#555555", "#8b6a2a"]},
                   "legend": null}
               }},
              {"data": {"name": "b"}, "transform": [{"filter": {"field": "s", "oneOf": ["RM (satellite peak)", "Ni/RM (satellite peak)", "Ni-Co/RM (satellite peak)"]}}],
               "mark": {"type": "line", "interpolate": "monotone", "strokeWidth": 1.1, "strokeDash": [1.5, 1.5]},
               "encoding": {
                 "color": {"field": "s", "type": "nominal",
                   "scale": {"domain": ["RM (Fe 2p 3/2)", "RM (satellite peak)", "RM (Fe 2p 1/2)", "Ni/RM (Fe 2p 3/2)", "Ni/RM (satellite peak)", "Ni/RM (Fe 2p 1/2)", "Ni-Co/RM (Fe 2p 3/2)", "Ni-Co/RM (satellite peak)", "Ni-Co/RM (Fe 2p 1/2)"],
                             "range": ["#8a8a8a", "#e8454a", "#3f7fe6", "#3cb878", "#9b7fd4", "#f0b030", "#5ee8e0", "#555555", "#d94cf0"]}}
               }},
              {"data": {"values": [{"t": "(b)", "ev": 700.3, "i": 223}]}, "mark": {"type": "text", "fontSize": 25, "fontWeight": "bold", "font": "Lato", "baseline": "middle"},
               "encoding": {"text": {"field": "t"}}}
            ]
          },
          {
            "width": 345, "height": 279,
            "view": {"stroke": "#555"},
            "encoding": {
              "x": {"field": "ev", "type": "quantitative", "scale": {"domain": [837.2, 898], "nice": false, "zero": false},
                    "axis": {"values": [840,844,848,852,856,860,864,868,872,876,880,884,888,892,896], "format": "d", "labelExpr": "datum.value % 8 === 0 ? datum.label : ''", "tickSize": {"condition": {"test": "datum.value % 8 === 0", "value": 5}, "value": 3}, "labelFontSize": 13, "labelPadding": 9, "title": "Binding Energy (eV)", "titleFontSize": 14.5, "titlePadding": 3}},
              "y": {"field": "i", "type": "quantitative", "scale": {"domain": [0, 279], "nice": false, "zero": false}, "axis": {"title": "Intensity (a.u.)", "labels": false, "ticks": false, "titleFontSize": 14.5, "titlePadding": 5}},
              "color": {"field": "s", "type": "nominal",
                "scale": {"domain": ["Ni-Co/RM (Ni 2p)", "Ni-Co/RM (Ni 2p3/₂)", "Ni-Co/RM (Ni 2p₁/₂)", "Satellite peak", "Ni/RM (Ni 2p)", "Ni/RM (Ni 2p₃/₂)"], "range": ["#3c3c3c", "#e8383c", "#2a66d4", "#2e9a62", "#d9b44a", "#3fd6cc"]},
                "legend": {"orient": "top-right", "offset": 3, "title": null, "symbolType": "M-1,0H4", "symbolSize": 100, "symbolStrokeWidth": 1.5, "labelFontSize": 11, "labelOffset": 19, "rowPadding": 0.5, "padding": 3, "strokeColor": "#999", "fillColor": "white", "labelColor": "#333"}}
            },
            "layer": [
              {"data": {"name": "d"}, "transform": [{"filter": {"field": "s", "oneOf": ["Ni-Co/RM (Ni 2p)", "Ni-Co/RM (Ni 2p3/₂)", "Ni-Co/RM (Ni 2p₁/₂)", "Satellite peak"]}}],
               "mark": {"type": "line", "interpolate": "monotone", "strokeWidth": 1.3}},
              {"data": {"name": "d"}, "transform": [{"filter": "datum.s === 'Ni/RM (Ni 2p)'"}],
               "mark": {"type": "line", "interpolate": "monotone", "strokeWidth": 1.8, "strokeDash": [2, 1.2]}},
              {"data": {"name": "d"}, "transform": [{"filter": "datum.s === 'Ni/RM (Ni 2p₃/₂)'"}],
               "mark": {"type": "line", "interpolate": "monotone", "strokeWidth": 3.5}},
              {"data": {"values": [{"t": "(d)", "ev": 843.2, "i": 221.6}]}, "mark": {"type": "text", "fontSize": 25, "fontWeight": "bold", "font": "Lato", "baseline": "middle", "color": "black"},
               "encoding": {"text": {"field": "t"}, "color": {"value": "black"}}}
            ]
          }
        ]
      },
      {
        "spacing": 21,
        "resolve": {"scale": {"color": "independent", "stroke": "independent", "fillOpacity": "independent"}, "legend": {"color": "independent", "stroke": "independent", "fillOpacity": "independent"}},
        "vconcat": [
          {
            "width": 345, "height": 280,
            "view": {"stroke": "#555"},
            "encoding": {
              "x": {"field": "ev", "type": "quantitative", "scale": {"domain": [518.3, 556.35], "nice": false, "zero": false},
                    "axis": {"values": [520,522.5,525,527.5,530,532.5,535,537.5,540,542.5,545,547.5,550,552.5,555], "format": "d", "labelExpr": "datum.value % 5 === 0 ? datum.label : ''", "tickSize": {"condition": {"test": "datum.value % 5 === 0", "value": 5}, "value": 3}, "labelFontSize": 13, "labelPadding": 9, "title": "Binding Energy (eV)", "titleFontSize": 14.5, "titlePadding": 3}},
              "y": {"field": "i", "type": "quantitative", "scale": {"domain": [0, 280], "nice": false, "zero": false}, "axis": {"title": "Intensity (a.u.)", "labels": false, "ticks": false, "titleFontSize": 14.5, "titlePadding": 5}},
              "color": {"field": "s", "type": "nominal",
                "scale": {"domain": ["RM (Oᵧ: Al-O, metal carbonates)", "RM (Oᵦ: Fe-O, Ti-O)", "Ni/RM (Oᵧ: Ni-O)", "Ni-Co/RM (Oᵦ: Co-O)"], "range": ["#333333", "#e8383c", "#2e9e5e", "#2525d8"]},
                "legend": {"orient": "top-right", "offset": 2, "title": null, "symbolType": "M-1,0H3.4", "symbolSize": 100, "symbolStrokeWidth": 1.5, "labelFont": "Liberation Serif", "labelFontSize": 12.5, "labelLimit": 300, "labelOffset": 16, "rowPadding": 3.5, "padding": 3, "strokeColor": "#999", "fillColor": "white", "labelColor": "#222"}}
            },
            "layer": [
              {"data": {"name": "c"}, "transform": [{"filter": "datum.s === 'Ni-Co/RM (Oᵦ: Co-O)'"}],
               "mark": {"type": "line", "interpolate": "monotone", "strokeWidth": 3, "strokeCap": "round", "strokeDash": [0.5, 3.4]}},
              {"data": {"name": "c"}, "transform": [{"filter": "datum.s === 'Ni/RM (Oᵧ: Ni-O)'"}],
               "mark": {"type": "line", "interpolate": "monotone", "strokeWidth": 4.2, "strokeCap": "round", "strokeDash": [0.5, 3.6]}},
              {"data": {"name": "c"}, "transform": [{"filter": {"field": "s", "oneOf": ["RM (Oᵦ: Fe-O, Ti-O)", "RM (Oᵧ: Al-O, metal carbonates)"]}}],
               "mark": {"type": "line", "interpolate": "monotone", "strokeWidth": 1.1}},
              {"data": {"values": [{"t": "(c)", "ev": 521, "i": 219}]}, "mark": {"type": "text", "fontSize": 25, "fontWeight": "bold", "font": "Lato", "baseline": "middle"},
               "encoding": {"text": {"field": "t"}, "color": {"value": "black"}}}
            ]
          },
          {
            "width": 345, "height": 277,
            "view": {"stroke": "#555"},
            "encoding": {
              "x": {"field": "ev", "type": "quantitative", "scale": {"domain": [770, 810], "nice": false, "zero": false},
                    "axis": {"values": [770,772.5,775,777.5,780,782.5,785,787.5,790,792.5,795,797.5,800,802.5,805,807.5,810], "format": "d", "labelExpr": "datum.value % 5 === 0 ? datum.label : ''", "tickSize": {"condition": {"test": "datum.value % 5 === 0", "value": 5}, "value": 3}, "labelFontSize": 13, "labelPadding": 9, "title": "Binding energy (eV)", "titleFontSize": 14.5, "titlePadding": 2}},
              "y": {"field": "i", "type": "quantitative", "stack": null, "scale": {"domain": [0, 277], "nice": false, "zero": false}, "axis": {"title": "Intensity (a.u.)", "labels": false, "ticks": false, "titleFontSize": 14.5, "titlePadding": 5}}
            },
            "layer": [
              {"data": {"name": "e"}, "transform": [{"filter": "datum.s === 'Co⁺³ (Co 2p₃/₂)'"}],
               "mark": {"type": "area", "interpolate": "monotone", "stroke": "#666", "strokeWidth": 1, "fill": {"gradient": "linear", "x1": 0, "y1": 0, "x2": 0, "y2": 1, "stops": [{"offset": 0, "color": "#6a6a6a"}, {"offset": 1, "color": "#d8d8d8"}]}},
               "encoding": {"y2": {"datum": 21.7}}},
              {"data": {"name": "e"}, "transform": [{"filter": "datum.s !== 'Co⁺³ (Co 2p₃/₂)'"}],
               "mark": {"type": "area", "interpolate": "monotone", "strokeWidth": 1.2},
               "encoding": {
                 "y2": {"datum": 21.7},
                 "color": {"field": "s", "type": "nominal",
                   "scale": {"domain": ["Co⁺³ (Co 2p₃/₂)", "Satellite peak (Co-O)", "Co⁺³ (Co 2p₁/₂)", "Satellite peak (Co-O) "], "range": ["#8c8c8c", "#f07070", "#c6dbf7", "#c9a227"]},
                   "legend": {"orient": "top-right", "offset": 4, "title": null, "symbolType": "M-1,-1H2.86V1H-1Z", "symbolSize": 196, "labelFontSize": 12.5, "labelOffset": 17, "rowPadding": -2.5, "padding": 3, "strokeColor": "#999", "fillColor": "white", "labelColor": "#333",
                     "encode": {"symbols": {"update": {
                       "fill": {"signal": "['#8c8c8c','#f28a8a','#d3e3f8','#c9a227'][indexof(['Co⁺³ (Co 2p₃/₂)','Satellite peak (Co-O)','Co⁺³ (Co 2p₁/₂)','Satellite peak (Co-O) '], datum.value)]"},
                       "stroke": {"signal": "['#777777','#f28a8a','#4a7fd4','#e0c040'][indexof(['Co⁺³ (Co 2p₃/₂)','Satellite peak (Co-O)','Co⁺³ (Co 2p₁/₂)','Satellite peak (Co-O) '], datum.value)]"},
                       "strokeWidth": {"value": 1.2},
                       "fillOpacity": {"value": 1},
                       "opacity": {"value": 1}
                     }}}}},
                 "stroke": {"field": "s", "type": "nominal", "scale": {"domain": ["Co⁺³ (Co 2p₃/₂)", "Satellite peak (Co-O)", "Co⁺³ (Co 2p₁/₂)", "Satellite peak (Co-O) "], "range": ["#777777", "#e86a6a", "#4a7fd4", "#e8c547"]}, "legend": null},
                 "fillOpacity": {"field": "s", "type": "nominal", "scale": {"domain": ["Co⁺³ (Co 2p₃/₂)", "Satellite peak (Co-O)", "Co⁺³ (Co 2p₁/₂)", "Satellite peak (Co-O) "], "range": [1, 0.55, 0.8, 0.95]}, "legend": null}
               }},
              {"data": {"values": [{"t": "(e)", "ev": 772.7, "i": 224.7}]}, "mark": {"type": "text", "fontSize": 25, "fontWeight": "bold", "font": "Lato", "baseline": "middle"},
               "encoding": {"text": {"field": "t"}}}
            ]
          }
        ]
      }
    ]
  }
]
}
